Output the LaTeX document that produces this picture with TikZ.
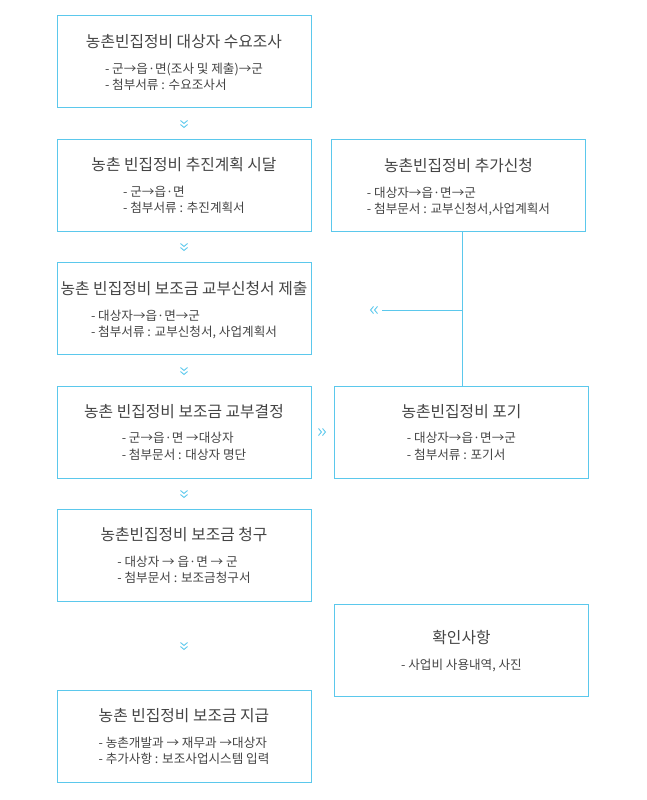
\documentclass[tikz,border=0pt]{standalone}
\usepackage{fontspec}
\setmainfont{Noto Sans CJK KR}
\usetikzlibrary{positioning}
\definecolor{boxblue}{HTML}{5BC8EC}
\definecolor{txtgray}{HTML}{444444}
\tikzset{
  stepbox/.style={draw=boxblue, line width=0.9pt, minimum width=254pt, minimum height=92pt, inner sep=0pt},
  boxtitle/.style={text=txtgray, font=\fontsize{15.8}{18}\selectfont, inner sep=0pt},
  boxlist/.style={text=txtgray, font=\fontsize{12.6}{16.5}\selectfont, align=left, inner sep=0pt},
  link/.style={draw=boxblue, line width=0.8pt}
}
% double chevron: #1 position, #2 rotation
\newcommand\chev[2]{%
  \begin{scope}[shift={#1}, rotate=#2]
    \draw[boxblue, line width=0.9pt] (-2.5,-3.5) -- (0.5,0) -- (-2.5,3.5);
    \draw[boxblue, line width=0.9pt] (1.5,-3.5) -- (4.5,0) -- (1.5,3.5);
  \end{scope}}
\begin{document}
\begin{tikzpicture}[x=1pt, y=-1pt]
\useasboundingbox (0,0) rectangle (646,800);

% left column
\node[stepbox] (b1) at (184,61) {};
\node[boxtitle] (t1) at (184,42) {농촌빈집정비 대상자 수요조사};
\node[boxlist, below=13pt of t1] (l1) {- 군→읍·면(조사 및 제출)→군\\- 첨부서류 : 수요조사서};

\node[stepbox] (b2) at (184,185) {};
\node[boxtitle] (t2) at (184,165) {농촌 빈집정비 추진계획 시달};
\node[boxlist, below=13pt of t2] (l2) {- 군→읍·면\\- 첨부서류 : 추진계획서};

\node[stepbox] (b3) at (184,308) {};
\node[boxtitle] (t3) at (184,289) {농촌 빈집정비 보조금 교부신청서 제출};
\node[boxlist, below=13pt of t3] (l3) {- 대상자→읍·면→군\\- 첨부서류 : 교부신청서, 사업계획서};

\node[stepbox] (b4) at (184,432) {};
\node[boxtitle] (t4) at (184,412) {농촌 빈집정비 보조금 교부결정};
\node[boxlist, below=13pt of t4] (l4) {- 군→읍·면 →대상자\\- 첨부문서 : 대상자 명단};

\node[stepbox] (b5) at (184,555) {};
\node[boxtitle] (t5) at (184,535) {농촌빈집정비 보조금 청구};
\node[boxlist, below=13pt of t5] (l5) {- 대상자 → 읍·면 → 군\\- 첨부문서 : 보조금청구서};

\node[stepbox] (b6) at (184,736) {};
\node[boxtitle] (t6) at (184,716) {농촌 빈집정비 보조금 지급};
\node[boxlist, below=13pt of t6] (l6) {- 농촌개발과 → 재무과 →대상자\\- 추가사항 : 보조사업시스템 입력};

% right column
\node[stepbox] (r1) at (458.5,185) {};
\node[boxtitle] (rt1) at (458.5,166) {농촌빈집정비 추가신청};
\node[boxlist, below=13pt of rt1] (rl1) {- 대상자→읍·면→군\\- 첨부문서 : 교부신청서,사업계획서};

\node[stepbox] (r2) at (461.5,432) {};
\node[boxtitle] (rt2) at (461.5,412) {농촌빈집정비 포기};
\node[boxlist, below=13pt of rt2] (rl2) {- 대상자→읍·면→군\\- 첨부서류 : 포기서};

\node[stepbox] (r3) at (461.5,650) {};
\node[boxtitle] (rt3) at (461.5,638) {확인사항};
\node[boxlist, below=13pt of rt3] (rl3) {- 사업비 사용내역, 사진};

% connectors
\coordinate (jn) at (462,310);
\coordinate (jend) at (382,310);
\draw[link] (r1.south -| jn) -- (r2.north -| jn);
\draw[link] (jn) -- (jend);
\chev{(375,310)}{180}

% chevrons
\chev{(184,123)}{-90}
\chev{(184,246)}{-90}
\chev{(184,370)}{-90}
\chev{(184,493)}{-90}
\chev{(184,645)}{-90}
\chev{(321,432)}{0}
\end{tikzpicture}
\end{document}
